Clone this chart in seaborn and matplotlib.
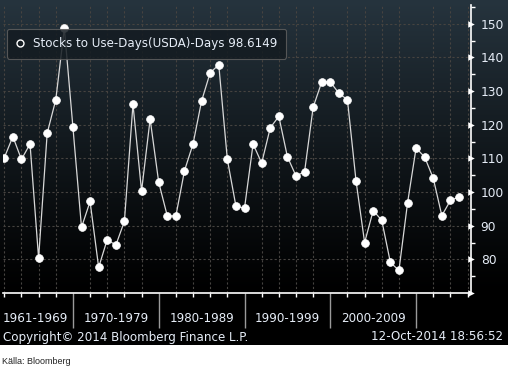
import numpy as np
import pandas as pd
import seaborn as sns
import matplotlib
matplotlib.use("Agg")
import matplotlib.pyplot as plt
from matplotlib.lines import Line2D

# ---- data ----
years = list(range(1962, 2016))
stocks_days = [110.2, 116.5, 109.7, 114.3, 80.3, 117.5, 127.4, 148.7,
               119.3, 89.5, 97.2, 77.6, 85.9, 84.2, 91.3, 126.1, 100.3, 121.7,
               102.9, 92.9, 92.9, 106.3, 114.3, 127.1, 135.5, 137.8, 109.7, 95.8,
               95.2, 114.3, 108.6, 119.1, 122.5, 110.5, 104.8, 106.0, 125.2, 132.7,
               132.7, 129.4, 127.4, 103.3, 85.0, 94.5, 91.6, 79.1, 76.7, 96.7,
               113.1, 110.4, 104.1, 93.0, 97.5, 98.6149]
series_name = "Stocks to Use-Days(USDA)-Days"
decade_labels = ["1961-1969", "1970-1979", "1980-1989", "1990-1999", "2000-2009"]
decade_label_pos = [1965.6, 1975, 1985, 1995, 2005]
decade_bounds = [1970, 1980, 1990, 2000, 2010]
y_major = [80, 90, 100, 110, 120, 130, 140, 150]
copyright_text = "Copyright\u00a9 2014 Bloomberg Finance L.P."
stamp_text = "12-Oct-2014 18:56:52"
source_text = "K\u00e4lla: Bloomberg"

df = pd.DataFrame({"year": years, "value": stocks_days})

W, H = 508, 373
fig = plt.figure(figsize=(W / 100, H / 100), dpi=100)
fig.patch.set_facecolor("white")

# background panel with gradient
panel_bottom = 345
bg = fig.add_axes([0, 1 - panel_bottom / H, 1, panel_bottom / H], zorder=0)
rows = panel_bottom
top = np.array([38, 52, 62]) / 255.0
grad = np.zeros((rows, 1, 3))
fade = 292
for r in range(rows):
    if r < fade:
        t = r / fade
        grad[r, 0, :] = top * (1 - t) ** 1.1
grad = np.clip(grad, 0, 1)
bg.imshow(grad, aspect="auto", extent=[0, 1, 0, 1], interpolation="bilinear")
bg.set_axis_off()

txt_color = "#e6edf7"

ax = fig.add_axes([3 / W, 1 - 293 / H, (471 - 3) / W, (293 - 5) / H], zorder=2)
ax.set_facecolor("none")

sns.lineplot(data=df, x="year", y="value", ax=ax, color="#d8d8d8", linewidth=0.9,
             marker="o", markersize=5.6, markerfacecolor="white",
             markeredgecolor="white", markeredgewidth=0.5, legend=False, zorder=3)

ax.set_xlim(1961.85, 2016.4)
ax.set_ylim(70, 155.6)

# grid
ax.set_xticks(np.arange(1962, 2017, 2), minor=True)
ax.set_xticks(decade_bounds)
ax.xaxis.grid(True, which="minor", color="#464340", linestyle=(0, (2, 2)), linewidth=0.8)
ax.yaxis.grid(True, which="major", color="#464340", linestyle=(0, (2, 2)), linewidth=0.8)
ax.set_axisbelow(True)

# x axis styling
ax.tick_params(axis="x", which="minor", direction="out", length=3, width=1,
               color="white", labelbottom=False)
ax.tick_params(axis="x", which="major", direction="out", length=25, width=1,
               color="#9a9a9a", labelbottom=False)
ax.set_xlabel("")
for lab, xp in zip(decade_labels, decade_label_pos):
    ax.text(xp, -26 / 288, lab, transform=ax.get_xaxis_transform(),
            ha="center", va="center", color=txt_color, fontsize=8.6)

# y axis styling (right)
ax.yaxis.tick_right()
ax.set_yticks(y_major)
ax.set_yticks(np.arange(75, 156, 5), minor=True)
ax.tick_params(axis="y", which="major", direction="out", length=0, pad=7,
               labelcolor=txt_color, labelsize=8.8)
ax.tick_params(axis="y", which="minor", direction="out", length=3, width=1, color="white")
ax.set_ylabel("")
ax.scatter([1.0] * (len(y_major) + 1), [70] + y_major, marker=">", s=22,
           color="white", transform=ax.get_yaxis_transform(), clip_on=False,
           zorder=5, linewidths=0)

for s in ["top", "left"]:
    ax.spines[s].set_visible(False)
for s in ["right", "bottom"]:
    ax.spines[s].set_color("white")
    ax.spines[s].set_linewidth(1.2)

# legend
handle = Line2D([], [], marker="o", linestyle="none", markerfacecolor="none",
                markeredgecolor="white", markeredgewidth=1.0, markersize=5)
leg = ax.legend([handle], [f"{series_name} {stocks_days[-1]:.4f}"],
                loc="upper left", bbox_to_anchor=(7 / W, 1 - 29 / H),
                bbox_transform=fig.transFigure, borderaxespad=0,
                fontsize=8.6, frameon=True, fancybox=True, handlelength=0.8,
                handletextpad=0.7, borderpad=0.7, labelcolor=txt_color)
fr = leg.get_frame()
fr.set_facecolor("#141b21")
fr.set_edgecolor("#606060")
fr.set_alpha(0.85)
fr.set_linewidth(0.8)
leg.set_zorder(6)

# footer
fig.text(3 / W, 1 - 337 / H, copyright_text, ha="left", va="center",
         color=txt_color, fontsize=8.6)
fig.text(503 / W, 1 - 337 / H, stamp_text, ha="right", va="center",
         color=txt_color, fontsize=8.6)
fig.text(2 / W, 1 - 361 / H, source_text, ha="left", va="center",
         color="#222222", fontsize=6.5, family="Liberation Sans")

fig.savefig("out.png", dpi=100)
